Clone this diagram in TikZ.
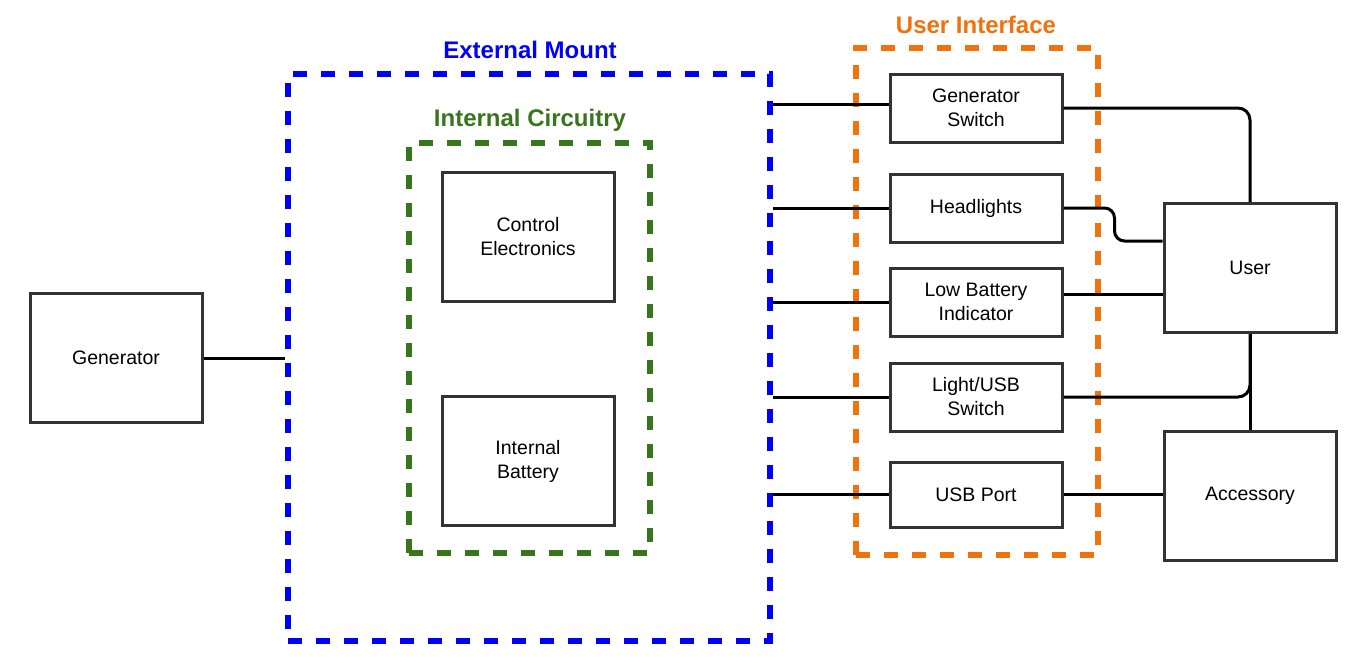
\documentclass[tikz,border=0pt]{standalone}
\usepackage{fontspec}
\setmainfont{Liberation Sans}
\usepackage{xcolor}
\definecolor{mountblue}{RGB}{0, 0, 255}
\definecolor{circgreen}{RGB}{56, 118, 29}
\definecolor{uiorange}{RGB}{241, 113, 12}
\definecolor{boxgray}{RGB}{51, 51, 51}
\usepackage{tikz}

\begin{document}
\begin{tikzpicture}[x=1pt, y=-1pt,
	block/.style={draw=boxgray, line width=3pt, minimum width=172pt, align=center, font=\fontsize{19.5}{24}\selectfont},
	uibox/.style={block, minimum height=68pt},
	bigbox/.style={block, minimum height=129pt},
	group/.style={draw=#1, line width=6pt, dash pattern=on 14pt off 14pt},
	title/.style={text=#1, font=\fontsize{24}{28}\selectfont\bfseries},
	wire/.style={black, line width=3pt}]
		\useasboundingbox (0,0) rectangle (1355,662);
		\node[group=mountblue, minimum width=482pt, minimum height=567pt] (mount) at (529,357.5) {};
		\node[group=circgreen, minimum width=241pt, minimum height=410pt] (circ) at (529.5,348) {};
		\node[group=uiorange, minimum width=242pt, minimum height=507pt] (ui) at (977,301.5) {};
		\node[title=mountblue] (mountlbl) at (530,50) {External Mount};
		\node[title=circgreen] (circlbl) at (530,120) {Internal Circuitry};
		\node[title=uiorange] (uilbl) at (976,25) {User Interface};
		\node[bigbox] (gen) at (116,358) {Generator};
		\node[bigbox] (ctrl) at (528,237) {Control\\Electronics};
		\node[bigbox] (batt) at (528,461) {Internal\\Battery};
		\node[uibox] (gsw) at (976,108) {Generator\\Switch};
		\node[uibox] (hl) at (976,208) {Headlights};
		\node[uibox] (lbi) at (976,302) {Low Battery\\Indicator};
		\node[uibox] (lus) at (976,397) {Light/USB\\Switch};
		\node[uibox, minimum height=65pt] (usb) at (976,494.5) {USB Port};
		\node[bigbox] (user) at (1250,268) {User};
		\node[bigbox] (acc) at (1250,495.5) {Accessory};
		\draw[wire] (gen.east) -- (gen.east -| mount.west);
		\draw[wire] ([yshift=4pt]gsw.west) -- ([yshift=4pt]gsw.west -| mount.east);
		\draw[wire] (hl.west) -- (hl.west -| mount.east);
		\draw[wire] (lbi.west) -- (lbi.west -| mount.east);
		\draw[wire] (lus.west) -- (lus.west -| mount.east);
		\draw[wire] (usb.west) -- (usb.west -| mount.east);
		\draw[wire, rounded corners=12pt] (gsw.east) -| (user.north);
		\draw[wire, rounded corners=10pt] (hl.east) -- ++(51,0) |- ([yshift=27pt]user.west);
		\draw[wire] ([yshift=8pt]lbi.east) -- ([yshift=8pt]lbi.east -| user.west);
		\draw[wire, rounded corners=12pt] (lus.east) -| (user.south);
		\draw[wire] (user.south) -- (acc.north);
		\draw[wire] (usb.east) -- (usb.east -| acc.west);
	\end{tikzpicture}
\end{document}
